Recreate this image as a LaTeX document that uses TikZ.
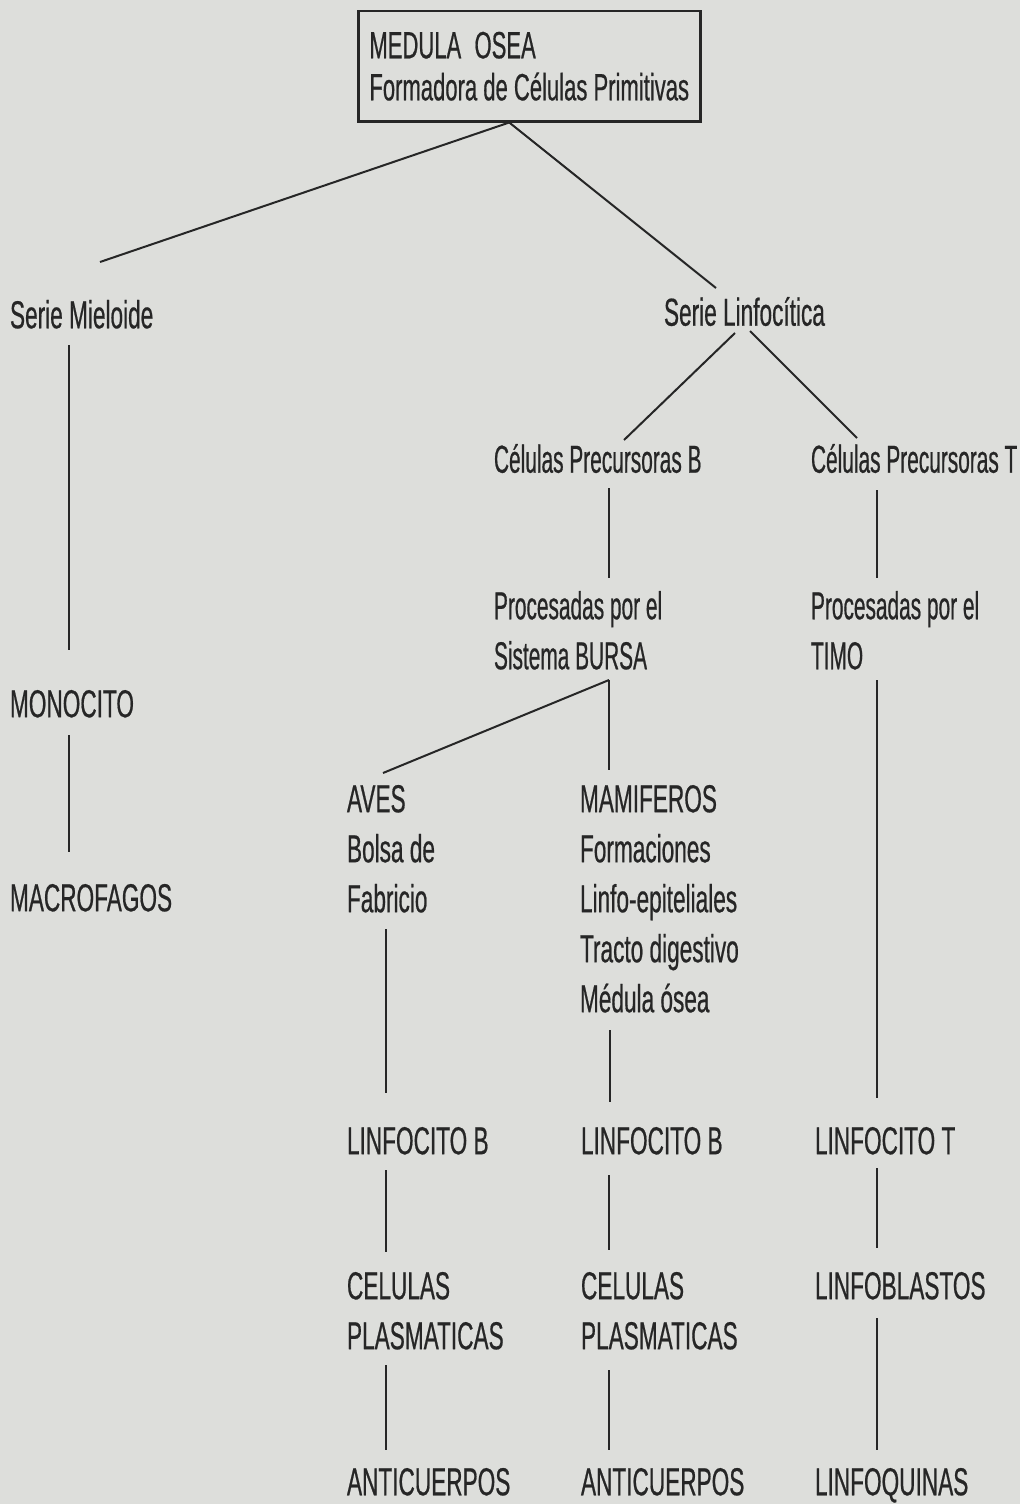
\documentclass[tikz,border=0pt]{standalone}
\usepackage{fontspec}
\setmainfont[FakeStretch=0.58,FakeBold=0.5]{Liberation Sans}
\newfontfamily\narrowf[FakeStretch=0.535,FakeBold=0.5]{Liberation Sans}
\definecolor{paper}{RGB}{221,222,219}
\definecolor{ink}{RGB}{38,38,38}
\begin{document}
\begin{tikzpicture}[x=1pt,y=-1pt,
  lbl/.style={anchor=north west, inner sep=0pt, outer sep=0pt, text=ink, align=left,
              font=\fontsize{39}{50}\selectfont},
  nlbl/.style={lbl, font=\fontsize{39}{50}\selectfont\narrowf},
  conn/.style={draw=ink, line width=2pt},
  mainbox/.style={draw=ink, line width=2.5pt, anchor=north west, minimum width=342pt,
              minimum height=110pt, inner sep=0pt, text=ink, align=left,
              font=\fontsize{38}{42}\selectfont}]
\fill[paper] (0,0) rectangle (1020,1504);
\useasboundingbox (0,0) rectangle (1020,1504);

% nodes
\node[mainbox] (med) at (357,10) {MEDULA\hspace{0.35em}OSEA\\Formadora de Células Primitivas};
\node[lbl] (sm) at (10,300) {Serie Mieloide};
\node[lbl] (sl) at (664,297) {Serie Linfocítica};
\node[lbl] (mono) at (10,690) {MONOCITO};
\node[lbl] (macro) at (10,884) {MACROFAGOS};
\node[nlbl] (cpb) at (494,444) {Células Precursoras B};
\node[nlbl] (cpt) at (811,444) {Células Precursoras T};
\node[nlbl] (pb) at (494,591) {Procesadas por el\\Sistema BURSA};
\node[nlbl] (pt) at (811,591) {Procesadas por el\\TIMO};
\node[lbl] (aves) at (347,785) {AVES\\Bolsa de\\Fabricio};
\node[lbl] (mam) at (580,785) {MAMIFEROS\\Formaciones\\Linfo-epiteliales\\Tracto digestivo\\Médula ósea};
\node[lbl] (lb1) at (347,1127) {LINFOCITO B};
\node[lbl] (lb2) at (581,1127) {LINFOCITO B};
\node[lbl] (lt) at (815,1127) {LINFOCITO T};
\node[lbl] (cp1) at (347,1272) {CELULAS\\PLASMATICAS};
\node[lbl] (cp2) at (581,1272) {CELULAS\\PLASMATICAS};
\node[lbl] (lbl) at (815,1272) {LINFOBLASTOS};
\node[lbl] (an1) at (347,1468) {ANTICUERPOS};
\node[lbl] (an2) at (581,1468) {ANTICUERPOS};
\node[lbl] (lq) at (815,1468) {LINFOQUINAS};

% connectors
\draw[conn] ([shift={(-20,0)}]med.south) -- ([shift={(90,-38)}]sm.north west);
\draw[conn] ([shift={(-20,0)}]med.south) -- ([shift={(52,-9)}]sl.north west);
\draw[conn] ([shift={(59,45)}]sm.north west) -- ([shift={(59,-40)}]mono.north west);
\draw[conn] ([shift={(59,45)}]mono.north west) -- ([shift={(59,-32)}]macro.north west);
\draw[conn] ([shift={(71,36)}]sl.north west) -- ([shift={(130,-4)}]cpb.north west);
\draw[conn] ([shift={(86,34)}]sl.north west) -- ([shift={(46,-6)}]cpt.north west);
\draw[conn] ([shift={(115,44)}]cpb.north west) -- ([shift={(115,-13)}]pb.north west);
\draw[conn] ([shift={(66,46)}]cpt.north west) -- ([shift={(66,-13)}]pt.north west);
\draw[conn] ([shift={(115,89)}]pb.north west) -- ([shift={(36,-12)}]aves.north west);
\draw[conn] ([shift={(115,89)}]pb.north west) -- ([shift={(29,-15)}]mam.north west);
\draw[conn] ([shift={(66,89)}]pt.north west) -- ([shift={(62,-29)}]lt.north west);
\draw[conn] ([shift={(39,144)}]aves.north west) -- ([shift={(39,-34)}]lb1.north west);
\draw[conn] ([shift={(30,245)}]mam.north west) -- ([shift={(29,-25)}]lb2.north west);
\draw[conn] ([shift={(39,43)}]lb1.north west) -- ([shift={(39,-20)}]cp1.north west);
\draw[conn] ([shift={(28,48)}]lb2.north west) -- ([shift={(28,-22)}]cp2.north west);
\draw[conn] ([shift={(62,41)}]lt.north west) -- ([shift={(62,-24)}]lbl.north west);
\draw[conn] ([shift={(39,93)}]cp1.north west) -- ([shift={(39,-18)}]an1.north west);
\draw[conn] ([shift={(28,98)}]cp2.north west) -- ([shift={(28,-18)}]an2.north west);
\draw[conn] ([shift={(62,46)}]lbl.north west) -- ([shift={(62,-18)}]lq.north west);
\end{tikzpicture}
\end{document}
